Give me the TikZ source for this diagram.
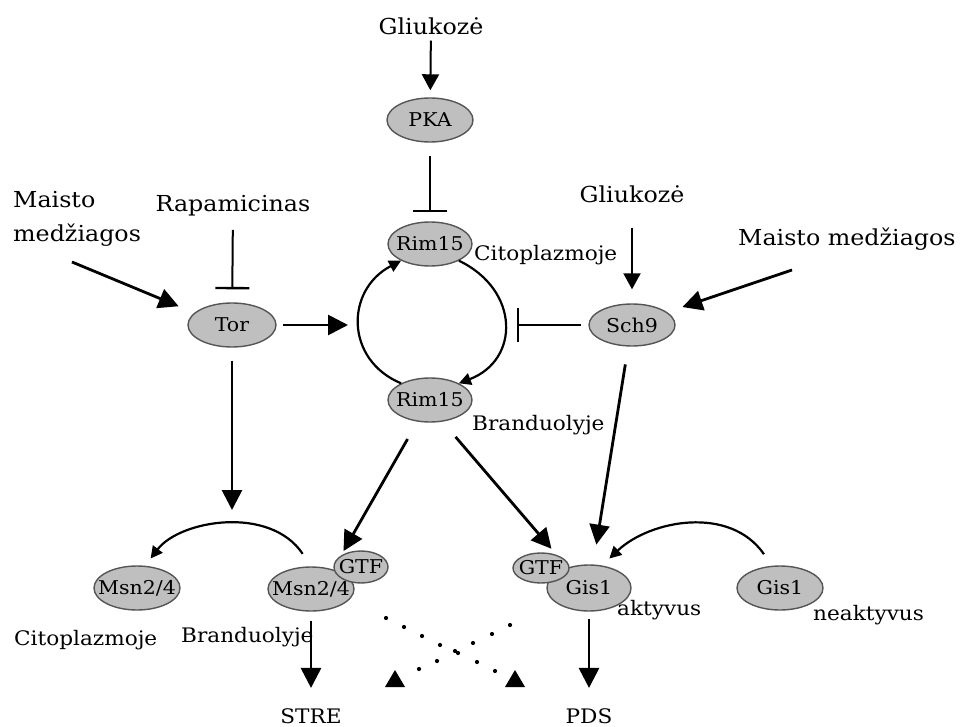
\documentclass[tikz,border=0pt]{standalone}
\usepackage{fontspec}
\setmainfont{DejaVu Serif}[FakeStretch=1.08]
\usetikzlibrary{shapes.geometric,arrows.meta}
\definecolor{protfill}{HTML}{BFBFBF}
\definecolor{protedge}{HTML}{555555}
\begin{document}
\begin{tikzpicture}[x=1pt,y=-1pt,
  nodetext/.style={inner sep=0pt, font=\fontsize{19}{21}\selectfont},
  prot/.style={ellipse, draw=protedge, fill=protfill, line width=1.4pt, inner sep=0pt,
    label={[nodetext]center:#1}},
  lbl/.style={inner sep=0pt, font=\fontsize{22}{34}\selectfont, align=left},
  slbl/.style={inner sep=0pt, font=\fontsize{20}{24}\selectfont},
  heavy/.style={line width=2.8pt, -{Triangle[length=20pt,width=20pt]}},
  light/.style={line width=2pt, -{Triangle[length=16pt,width=17pt]}},
  bendarr/.style={line width=2.2pt, -{Triangle[length=12pt,width=12pt]}},
  block/.style={line width=2pt, -{Bar[width=34pt,line width=2.4pt]}},
]
\useasboundingbox (0,0) rectangle (960,727);

% proteins
\node[prot=PKA, minimum width=86pt, minimum height=44pt] (pka) at (430,120) {};
\node[prot=Rim15, minimum width=84pt, minimum height=44pt] (rimC) at (430,244) {};
\node[prot=Rim15, minimum width=84pt, minimum height=44pt] (rimN) at (430,400) {};
\node[prot=Tor, minimum width=88pt, minimum height=44pt] (tor) at (232,325) {};
\node[prot=Sch9, minimum width=86pt, minimum height=42pt] (sch) at (632,325) {};
\node[prot={Msn2/4}, minimum width=86pt, minimum height=44pt] (msnC) at (137,588) {};
\node[prot={Msn2/4}, minimum width=86pt, minimum height=44pt] (msnN) at (311,589) {};
\node[prot=GTF, minimum width=54pt, minimum height=32pt] (gtfL) at (361,567) {};
\node[prot=Gis1, minimum width=84pt, minimum height=46pt] (gisA) at (589,588) {};
\node[prot=GTF, minimum width=56pt, minimum height=30pt] (gtfR) at (541,568) {};
\node[prot=Gis1, minimum width=86pt, minimum height=44pt] (gisI) at (780,588) {};

% input labels
\node[lbl, anchor=base] (gA) at (431,35) {Gliukozė};
\node[lbl, anchor=base] (gB) at (632,203) {Gliukozė};
\node[lbl, anchor=base] (rapa) at (233,212) {Rapamicinas};
\node[lbl, anchor=base west] (maistoL) at (13,242) {Maisto\\medžiagos};
\node[lbl, anchor=base west] (maistoR) at (738,245) {Maisto medžiagos};

% compartment and state labels
\node[slbl, anchor=west] (citoA) at (474,255) {Citoplazmoje};
\node[slbl, anchor=west] (branA) at (472,425) {Branduolyje};
\node[slbl, anchor=west] (citoB) at (14,640) {Citoplazmoje};
\node[slbl, anchor=west] (branB) at (181,637) {Branduolyje};
\node[slbl, anchor=west] (akt) at (617,610) {aktyvus};
\node[slbl, anchor=west] (neakt) at (813,615) {neaktyvus};
\node[slbl, anchor=base] (stre) at (311,723) {STRE};
\node[slbl, anchor=base] (pds) at (589,723) {PDS};

% free ends
\coordinate (mL0) at (72,262);
\coordinate (mR0) at (792,270);
\coordinate (cycL) at (348,325);
\coordinate (cycR) at (517,325);
\coordinate (torDn) at (232,510);

% upstream signals
\draw[light, shorten <=5pt, shorten >=7pt] (gA) -- (pka);
\draw[block, shorten <=13pt, shorten >=9pt] (pka) -- (rimC);
\draw[block, shorten <=13pt, shorten >=13pt] (rapa) -- (tor);
\draw[heavy, shorten >=17pt] (mL0) -- (tor.162);
\draw[light, shorten <=24pt, shorten >=14pt] (gB) -- (sch);
\draw[heavy, shorten >=16pt] (mR0) -- (sch.20);
\draw[heavy, shorten <=6pt] (tor) -- (cycL);
\draw[block, shorten <=7pt] (sch) -- (cycR);

% Rim15 shuttling
\draw[bendarr] (rimN.150) .. controls (345,360) and (345,290) .. (rimC.210);
\draw[bendarr] (rimC.330) .. controls (520,290) and (520,360) .. (rimN.30);

% downstream
\draw[heavy, shorten <=13pt] (tor) -- (torDn);
\draw[bendarr, shorten <=15pt, shorten >=9pt] (msnN.north) .. controls (270,505) and (180,520) .. (msnC.70);
\draw[heavy, shorten <=20pt, shorten >=5pt] (rimN.240) -- (gtfL.150);
\draw[heavy, shorten <=20pt, shorten >=8pt] (rimN.300) -- (gtfR.40);
\draw[heavy, shorten <=18pt, shorten >=20pt] (sch.260) -- (gisA.80);
\draw[bendarr, shorten <=14pt, shorten >=10pt] (gisI.110) .. controls (730,505) and (650,520) .. (gisA.60);
\draw[heavy, shorten <=9pt, shorten >=20pt] (msnN) -- (stre);
\draw[heavy, shorten <=7pt, shorten >=20pt] (gisA) -- (pds);

% dotted crossing links
\foreach \p in {(386,618),(404,627),(422,636),(440,645),(458,653),(477,662),(495,671),
                (510,625),(492,634),(473,643),(455,651),(437,661),(419,669)}
  \fill \p circle[radius=2.1pt];
\fill (395,670) -- (385,687) -- (405,687) -- cycle;
\fill (515,670) -- (505,687) -- (525,687) -- cycle;
\end{tikzpicture}
\end{document}
